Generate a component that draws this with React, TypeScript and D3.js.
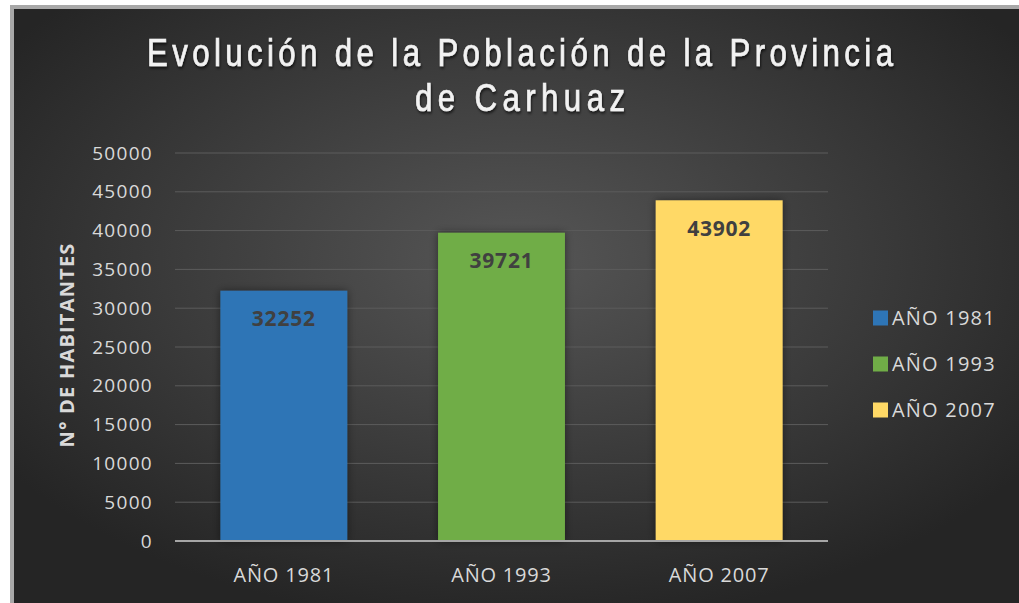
import React from 'react'
import * as d3 from 'd3'

const categories = ['AÑO 1981', 'AÑO 1993', 'AÑO 2007']
const population = [32252, 39721, 43902]
const barColors = ['#2e75b6', '#70ad47', '#ffd966']
const yTicks = [0, 5000, 10000, 15000, 20000, 25000, 30000, 35000, 40000, 45000, 50000]
const titleLines = ['Evolución de la Población de la Provincia', 'de Carhuaz']
const yAxisTitle = 'N° DE HABITANTES'

const W = 1019
const H = 603
const margin = { top: 153, right: 191, bottom: 62, left: 175 }
// title line widths; the fallback font is squeezed horizontally and spaced out
const titleWidths = [746, 210]
const titleSqueeze = 0.8

const App = () => {
  const innerW = W - margin.left - margin.right
  const innerH = H - margin.top - margin.bottom

  const x = d3.scaleBand<string>()
    .domain(categories)
    .range([0, innerW])
    .paddingInner(0.417)
    .paddingOuter(0.2085)

  const y = d3.scaleLinear()
    .domain([0, 50000])
    .range([innerH, 0])

  const labelFont = 'Open Sans, "Noto Sans", sans-serif'

  return (
    <div style={{ position: 'fixed', left: 0, top: 0 }}>
      <svg width={W} height={H} style={{ display: 'block' }}>
        <defs>
          <radialGradient id="bg" cx="50%" cy="42%" r="62%">
            <stop offset="0%" stopColor="#565656" />
            <stop offset="100%" stopColor="#252525" />
          </radialGradient>
          <filter id="shadow" x="-10%" y="-10%" width="120%" height="130%">
            <feDropShadow dx="1" dy="2" stdDeviation="1.5" floodColor="#000" floodOpacity="0.7" />
          </filter>
          <filter id="barShadow" x="-20%" y="-10%" width="140%" height="120%">
            <feDropShadow dx="0" dy="0" stdDeviation="4" floodColor="#000" floodOpacity="0.45" />
          </filter>
        </defs>
        <rect x={0} y={0} width={W} height={H} fill="#ffffff" />
        <rect x={10} y={5} width={W - 10} height={H - 5} fill="#a8a8a8" />
        <rect x={14} y={9} width={W - 14} height={H - 9} fill="url(#bg)" />

        {titleLines.map((t, i) => (
          <g key={t} transform={`translate(520,${66 + i * 45}) scale(${titleSqueeze},1)`} filter="url(#shadow)">
            <text
              x={0}
              y={0}
              textAnchor="middle"
              fill="#f2f2f2"
              stroke="#f2f2f2"
              strokeWidth={0.7}
              textLength={titleWidths[i] / titleSqueeze}
              lengthAdjust="spacing"
              style={{ font: '39px "Liberation Sans", Arial, sans-serif' }}
            >
              {t}
            </text>
          </g>
        ))}

        <text
          transform={`translate(74,${margin.top + innerH / 2 - 2}) rotate(-90)`}
          textAnchor="middle"
          fill="#d9d9d9"
          style={{ font: `bold 20px ${labelFont}`, letterSpacing: '1.2px' }}
        >
          {yAxisTitle}
        </text>

        <g transform={`translate(${margin.left},${margin.top})`}>
          {yTicks.map(t => (
            <g key={t}>
              {t > 0 && (
                <line x1={0} x2={innerW} y1={y(t)} y2={y(t)} stroke="#5c5c5c" strokeWidth={1} />
              )}
              <text
                x={-22}
                y={y(t)}
                dy="0.35em"
                textAnchor="end"
                fill="#d9d9d9"
                style={{ font: `19px ${labelFont}`, letterSpacing: '1.3px' }}
              >
                {t}
              </text>
            </g>
          ))}

          {categories.map((c, i) => (
            <g key={c}>
              <rect
                x={x(c)}
                y={y(population[i])}
                width={x.bandwidth()}
                height={innerH - y(population[i])}
                fill={barColors[i]}
                filter="url(#barShadow)"
              />
              <text
                x={(x(c) || 0) + x.bandwidth() / 2}
                y={y(population[i]) + 28}
                dy="0.35em"
                textAnchor="middle"
                fill="#404040"
                style={{ font: `bold 21px ${labelFont}`, letterSpacing: '0.8px' }}
              >
                {population[i]}
              </text>
              <text
                x={(x(c) || 0) + x.bandwidth() / 2}
                y={innerH + 34}
                dy="0.35em"
                textAnchor="middle"
                fill="#d9d9d9"
                style={{ font: `20px ${labelFont}`, letterSpacing: '0.8px' }}
              >
                {c}
              </text>
            </g>
          ))}

          <line x1={0} x2={innerW} y1={innerH} y2={innerH} stroke="#a6a6a6" strokeWidth={2} />
        </g>

        <g transform="translate(873,0)">
          {categories.map((c, i) => (
            <g key={c} transform={`translate(0,${318 + i * 46})`}>
              <rect x={0} y={-7.5} width={15} height={15} fill={barColors[i]} />
              <text
                x={19}
                y={0}
                dy="0.35em"
                fill="#d9d9d9"
                style={{ font: `20px ${labelFont}`, letterSpacing: '1.2px' }}
              >
                {c}
              </text>
            </g>
          ))}
        </g>
      </svg>
    </div>
  )
}

export default App
